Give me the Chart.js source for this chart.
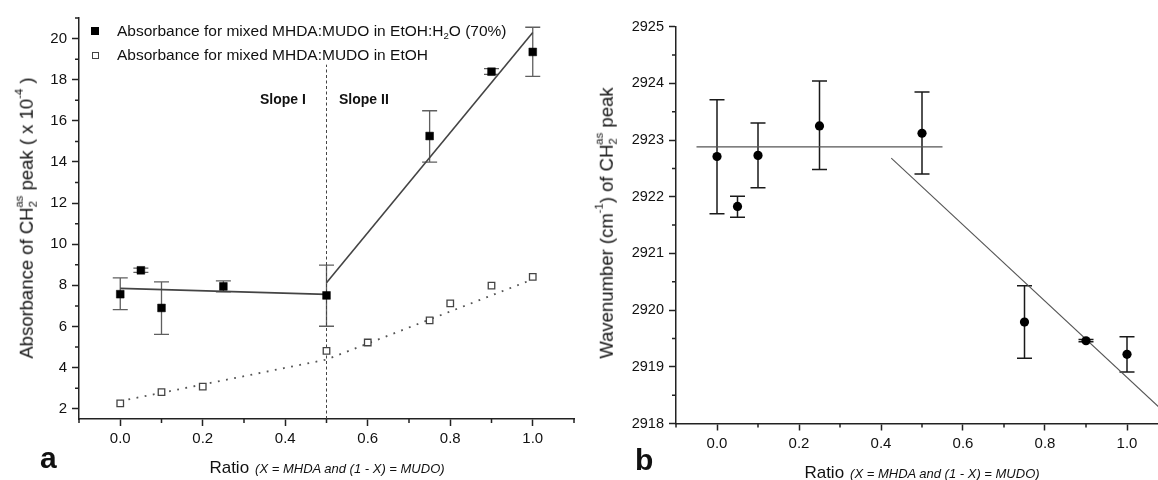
<!DOCTYPE html>
<html>
<head>
<meta charset="utf-8">
<script src="https://cdn.jsdelivr.net/npm/chart.js@4/dist/chart.umd.min.js"></script>
<style>
    html, body { margin: 0; padding: 0; background: #fff; }
    body { width: 1158px; height: 480px; overflow: hidden; position: relative; font-family: 'Liberation Sans', Arial, sans-serif; color: #111; }
    canvas { position: absolute; top: 0; }
    .txt { position: absolute; white-space: nowrap; line-height: 1; }
    .ytitle { font-size: 18.5px; transform: translate(-50%, -50%) rotate(-90deg); }
    .xtitle { font-size: 17px; transform: translateX(-50%); display: flex; align-items: baseline; }
    .xtitle i { font-size: 13px; margin-left: 6px; }
    sub, sup { font-size: 0.62em; line-height: 0; }
    sub { vertical-align: -0.35em; }
    sup { vertical-align: 0.85em; }
    .stk { margin-left: -0.58em; }
    .panel { font-size: 30px; font-weight: bold; }
    .slope { font-size: 14px; font-weight: bold; }
    .leg { font-size: 15.5px; }
    .mk { position: absolute; box-sizing: border-box; }
</style>
</head>
<body>
<canvas id="chartA" width="580" height="480" style="left:0"></canvas>
<canvas id="chartB" width="600" height="480" style="left:580px"></canvas>

<!-- teks di atas kanvas -->
<div class="mk" style="left:91px;top:27px;width:8px;height:8px;background:#000"></div>
<div class="mk" style="left:92px;top:51.5px;width:7px;height:7px;border:1.3px solid #444;background:#fff"></div>
<div class="txt leg" style="left:117px;top:23.4px">Absorbance for mixed MHDA:MUDO in EtOH:H<sub>2</sub>O (70%)</div>
<div class="txt leg" style="left:117px;top:47px">Absorbance for mixed MHDA:MUDO in EtOH</div>
<div class="txt slope" style="left:260px;top:92px">Slope I</div>
<div class="txt slope" style="left:339px;top:92px">Slope II</div>
<div class="txt ytitle" style="left:27px;top:218px">Absorbance of CH<sub>2</sub><sup class="stk">as</sup> peak ( x 10<sup>-4</sup> )</div>
<div class="txt xtitle" style="left:327px;top:458.6px">Ratio<i>(X = MHDA and (1 - X) = MUDO)</i></div>
<div class="txt panel" style="left:40px;top:442.6px">a</div>
<div class="txt ytitle" style="left:607px;top:223px">Wavenumber (cm<sup>-1</sup>) of CH<sub>2</sub><sup class="stk">as</sup> peak</div>
<div class="txt xtitle" style="left:922px;top:464px">Ratio<i>(X = MHDA and (1 - X) = MUDO)</i></div>
<div class="txt panel" style="left:635px;top:444.6px">b</div>

<script>
// Panel a: absorbansi
const ratioWater = [0, 0.05, 0.1, 0.25, 0.5, 0.75, 0.9, 1.0];
const absWater = [7.57, 8.73, 6.90, 7.95, 7.51, 15.26, 18.39, 19.35];
const absWaterHigh = [8.36, 8.84, 8.17, 8.22, 8.98, 16.49, 18.54, 20.55];
const absWaterLow = [6.82, 8.63, 5.62, 7.68, 6.01, 13.99, 18.26, 18.16];

const ratioEtOH = [0, 0.1, 0.2, 0.5, 0.6, 0.75, 0.8, 0.9, 1.0];
const absEtOH = [2.26, 2.81, 3.07, 4.81, 5.22, 6.30, 7.12, 7.99, 8.41];

const slopeIX = [0, 0.5];
const slopeIY = [7.85, 7.56];
const slopeIIX = [0.5, 1.0];
const slopeIIY = [8.12, 20.30];
const etohFitX = [0, 0.5, 1.0];
const etohFitY = [2.37, 4.39, 8.29];
const dividerX = [0.5, 0.5];
const dividerY = [1.5, 18.73];

// Panel b: bilangan gelombang
const ratioWave = [0, 0.05, 0.1, 0.25, 0.5, 0.75, 0.9, 1.0];
const wave = [2922.71, 2921.83, 2922.73, 2923.25, 2923.12, 2919.79, 2919.46, 2919.22];
const waveHigh = [2923.71, 2922.01, 2923.30, 2924.04, 2923.85, 2920.43, 2919.48, 2919.53];
const waveLow = [2921.70, 2921.64, 2922.16, 2922.48, 2922.40, 2919.15, 2919.44, 2918.91];
const flatFitX = [-0.05, 0.55];
const flatFitY = [2922.88, 2922.88];
const dropFitX = [0.425, 1.1];
const dropFitY = [2922.68, 2918.14];

// Tick
const xMajor = [0, 0.2, 0.4, 0.6, 0.8, 1.0];
const xMinor = [-0.1, 0.1, 0.3, 0.5, 0.7, 0.9, 1.1];
const absMajor = [2, 4, 6, 8, 10, 12, 14, 16, 18, 20];
const absMinor = [3, 5, 7, 9, 11, 13, 15, 17, 19, 21];
const waveMajor = [2918, 2919, 2920, 2921, 2922, 2923, 2924, 2925];
const waveMinor = [2918.5, 2919.5, 2920.5, 2921.5, 2922.5, 2923.5, 2924.5];

Chart.defaults.font.family = "'Liberation Sans', Arial, sans-serif";
Chart.defaults.color = "#111";
Chart.defaults.animation = false;

function toPoints(xs, ys) {
    return xs.map((x, i) => ({ x: x, y: ys[i] }));
}

// Error bar digambar lewat skala chart
const errorBarPlugin = {
    id: "errorBars",
    beforeDatasetsDraw(chart, args, opts) {
        const ctx = chart.ctx;
        const xs = chart.scales.x, ys = chart.scales.y;
        ctx.save();
        ctx.strokeStyle = opts.color;
        ctx.lineWidth = opts.width;
        opts.x.forEach((xv, i) => {
            const px = xs.getPixelForValue(xv);
            const top = ys.getPixelForValue(opts.high[i]);
            const bot = ys.getPixelForValue(opts.low[i]);
            ctx.beginPath();
            ctx.moveTo(px, top); ctx.lineTo(px, bot);
            ctx.moveTo(px - opts.cap, top); ctx.lineTo(px + opts.cap, top);
            ctx.moveTo(px - opts.cap, bot); ctx.lineTo(px + opts.cap, bot);
            ctx.stroke();
        });
        ctx.restore();
    }
};

// Tick minor (lebih pendek)
const minorTickPlugin = {
    id: "minorTicks",
    afterDraw(chart, args, opts) {
        const ctx = chart.ctx;
        const area = chart.chartArea;
        ctx.save();
        ctx.strokeStyle = "#222";
        ctx.lineWidth = 1.5;
        ctx.beginPath();
        opts.x.forEach(v => {
            const px = chart.scales.x.getPixelForValue(v);
            ctx.moveTo(px, area.bottom); ctx.lineTo(px, area.bottom + 4);
        });
        opts.y.forEach(v => {
            const py = chart.scales.y.getPixelForValue(v);
            ctx.moveTo(area.left, py); ctx.lineTo(area.left - 4, py);
        });
        ctx.stroke();
        ctx.restore();
    }
};

function makeScales(yMin, yMax, yTicks, yWidth, xHeight, yFont) {
    const axisGrid = { display: true, drawOnChartArea: false, drawTicks: true, tickLength: 7, tickColor: "#222", tickWidth: 1.5 };
    return {
        x: {
            type: "linear",
            min: -0.1,
            max: 1.1,
            afterBuildTicks: s => { s.ticks = xMajor.map(v => ({ value: v })); },
            afterFit: s => { s.height = xHeight; },
            ticks: { callback: v => v.toFixed(1), font: { size: 15 }, padding: 4, maxRotation: 0 },
            grid: axisGrid,
            border: { color: "#222", width: 1.5 }
        },
        y: {
            type: "linear",
            min: yMin,
            max: yMax,
            afterBuildTicks: s => { s.ticks = yTicks.map(v => ({ value: v })); },
            afterFit: s => { s.width = yWidth; },
            ticks: { callback: v => String(v), font: { size: yFont }, padding: 5 },
            grid: axisGrid,
            border: { color: "#222", width: 1.5 }
        }
    };
}

const chartA = new Chart(document.getElementById("chartA"), {
    type: "scatter",
    data: {
        datasets: [
            {
                data: toPoints(ratioWater, absWater),
                pointStyle: "rect",
                pointRadius: 5.5,
                backgroundColor: "#000",
                borderColor: "#000",
                borderWidth: 0.5
            },
            {
                data: toPoints(ratioEtOH, absEtOH),
                pointStyle: "rect",
                pointRadius: 4.6,
                backgroundColor: "#fff",
                borderColor: "#444",
                borderWidth: 1.3
            },
            {
                data: toPoints(slopeIX, slopeIY),
                showLine: true, pointRadius: 0,
                borderColor: "#444", borderWidth: 1.6
            },
            {
                data: toPoints(slopeIIX, slopeIIY),
                showLine: true, pointRadius: 0,
                borderColor: "#444", borderWidth: 1.6
            },
            {
                data: toPoints(etohFitX, etohFitY),
                showLine: true, pointRadius: 0,
                borderColor: "#555", borderWidth: 1.8,
                borderDash: [1.8, 6.5]
            },
            {
                data: toPoints(dividerX, dividerY),
                showLine: true, pointRadius: 0,
                borderColor: "#444", borderWidth: 1,
                borderDash: [3, 2.5]
            }
        ]
    },
    options: {
        responsive: false,
        devicePixelRatio: 1,
        layout: { padding: { top: 18, right: 6, left: 0, bottom: 0 } },
        plugins: {
            legend: { display: false },
            tooltip: { enabled: false },
            errorBars: { x: ratioWater, low: absWaterLow, high: absWaterHigh, color: "#5f5f5f", width: 1.3, cap: 7.5 },
            minorTicks: { x: xMinor, y: absMinor }
        },
        scales: makeScales(1.5, 21, absMajor, 79, 61, 15)
    },
    plugins: [errorBarPlugin, minorTickPlugin]
});

const chartB = new Chart(document.getElementById("chartB"), {
    type: "scatter",
    data: {
        datasets: [
            {
                data: toPoints(ratioWave, wave),
                pointStyle: "circle",
                pointRadius: 4.6,
                backgroundColor: "#000",
                borderColor: "#000",
                borderWidth: 0
            },
            {
                data: toPoints(flatFitX, flatFitY),
                showLine: true, pointRadius: 0,
                borderColor: "#555", borderWidth: 1.1
            },
            {
                data: toPoints(dropFitX, dropFitY),
                showLine: true, pointRadius: 0,
                borderColor: "#555", borderWidth: 1.1
            }
        ]
    },
    options: {
        responsive: false,
        devicePixelRatio: 1,
        layout: { padding: { top: 26.7, right: 12, left: 0, bottom: 0 } },
        plugins: {
            legend: { display: false },
            tooltip: { enabled: false },
            errorBars: { x: ratioWave, low: waveLow, high: waveHigh, color: "#1a1a1a", width: 1.5, cap: 7.5 },
            minorTicks: { x: xMinor, y: waveMinor }
        },
        scales: makeScales(2918, 2925, waveMajor, 96, 56.5, 14.5)
    },
    plugins: [errorBarPlugin, minorTickPlugin]
});
</script>
</body>
</html>
